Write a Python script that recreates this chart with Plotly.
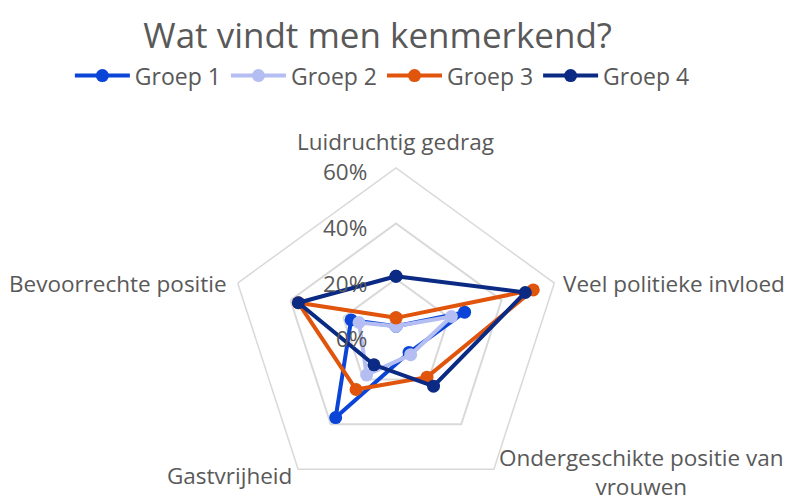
import plotly.graph_objects as go

categories = ["Luidruchtig gedrag", "Veel politieke invloed",
              "Ondergeschikte positie van<br>vrouwen", "Gastvrijheid",
              "Bevoorrechte positie"]
groep1 = [0.03, 0.26, 0.08, 0.37, 0.17]
groep2 = [0.03, 0.21, 0.09, 0.18, 0.14]
groep3 = [0.06, 0.52, 0.19, 0.245, 0.37]
groep4 = [0.21, 0.49, 0.23, 0.135, 0.37]
series_names = ["Groep 1", "Groep 2", "Groep 3", "Groep 4"]
series_values = [groep1, groep2, groep3, groep4]
colors = ["#0b45d8", "#b4bef2", "#e0540c", "#0a2a84"]
radial_ticks = [0, 0.2, 0.4, 0.6]
radial_max = 0.6

FONT = "Open Sans"
GRAY = "#595959"
GRID = "#d9d9d9"
W, H = 790, 501

# polar frame (pixels)
CX, CY, R = 396, 334.5, 166.5

fig = go.Figure()
for name, vals, col in zip(series_names, series_values, colors):
    fig.add_trace(go.Scatterpolar(
        r=vals + vals[:1],
        theta=categories + categories[:1],
        mode="lines+markers",
        name=name,
        line=dict(color=col, width=4),
        marker=dict(color=col, size=13),
    ))

# category label placement (pixel centres / anchors in the frame)
label_pos = [
    (395, 141, "center"),
    (561, 283, "left"),
    (641, 472, "center"),
    (229, 475, "center"),
    (229, 283, "right"),
]
annotations = []
for cat, (px, py, anchor) in zip(categories, label_pos):
    annotations.append(dict(
        text=cat, x=px / W, y=1 - py / H, xref="paper", yref="paper",
        xanchor=anchor, yanchor="middle", showarrow=False, align="center",
        font=dict(family=FONT, size=22.5, color=GRAY),
    ))
# radial tick labels, left of the top spoke
for v in radial_ticks:
    py = CY - v / radial_max * R + 4
    annotations.append(dict(
        text=f"{round(v * 100)}%", x=369 / W, y=1 - py / H, xref="paper", yref="paper",
        xanchor="right", yanchor="middle", showarrow=False,
        font=dict(family=FONT, size=22.5, color=GRAY),
    ))

fig.update_layout(
    width=W, height=H,
    margin=dict(l=0, r=0, t=0, b=0),
    paper_bgcolor="white",
    font=dict(family=FONT, color=GRAY, size=23),
    title=dict(text="Wat vindt men kenmerkend?", x=0.478, xanchor="center",
               y=0.929, yanchor="middle",
               font=dict(family=FONT, size=35, color=GRAY)),
    legend=dict(orientation="h", x=0.484, xanchor="center", y=0.849, yanchor="middle",
                font=dict(family=FONT, size=23, color=GRAY),
                itemwidth=55, tracegroupgap=0),
    annotations=annotations,
    polar=dict(
        domain=dict(x=[(CX - R) / W, (CX + R) / W],
                    y=[1 - (CY + R) / H, 1 - (CY - R) / H]),
        bgcolor="white",
        gridshape="linear",
        angularaxis=dict(rotation=90, direction="clockwise", showgrid=False,
                         showline=True, linecolor=GRID, linewidth=1.5,
                         ticks="", showticklabels=False),
        radialaxis=dict(range=[0, radial_max], tickvals=radial_ticks,
                        angle=90, showline=False, showgrid=True,
                        gridcolor=GRID, gridwidth=1.5, ticks="",
                        showticklabels=False),
    ),
)

fig.write_html("out.html",
               config={"displayModeBar": False},
               post_script="document.body.style.margin='0';document.body.style.overflow='hidden';")
